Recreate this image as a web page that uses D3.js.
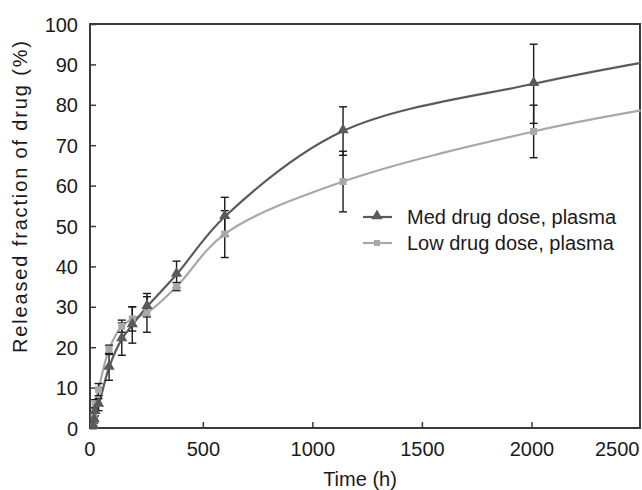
<!DOCTYPE html>
<html>
<head>
<meta charset="utf-8">
<script src="https://cdn.jsdelivr.net/npm/d3@7"></script>
<style>
  body { margin: 0; background: #fff; }
  text { font-family: "Liberation Sans", Arial, sans-serif; fill: #1a1a1a; }
</style>
</head>
<body>
<script>
// data
var times = [0, 4, 8, 24, 72, 130, 178, 245, 380, 600, 1140, 2010];
var medVals = [0.3, 2, 4, 5.8, 15, 22, 25.5, 30, 38, 52.3, 73.5, 85.2];
var medErr = [0.3, 0.8, 1, 1.5, 3.2, 4, 4.5, 2.5, 3.3, 4.8, 6, 9.8];
var lowVals = [0.3, 3, 6, 9.5, 19.5, 25.2, 27, 28.5, 35, 48, 61, 73.4];
var lowErr = [0.3, 0.8, 1, 1.5, 1, 1.5, 3, 4.8, 1, 5.8, 7.5, 6.5];
// curve continues to the edge of the plot (no marker there)
var tailTime = 2500;
var medTail = 90.4;
var lowTail = 78.6;
var xTicks = [0, 500, 1000, 1500, 2000, 2500];
var yTicks = [0, 10, 20, 30, 40, 50, 60, 70, 80, 90, 100];
var seriesNames = ["Med drug dose, plasma", "Low drug dose, plasma"];

var W = 642, H = 490;
var svg = d3.select("body").append("svg")
    .attr("width", W)
    .attr("height", H);

var x = d3.scaleLinear().domain([-15, 2500]).range([90, 641]);
var y = d3.scaleLinear().domain([0, 100]).range([428, 24]);

var axisCol = "#3a3a3a";
var medCol = "#5a5a5a";
var lowCol = "#a8a8a8";
var fs = "20px";

// frame
svg.append("rect")
    .attr("x", x.range()[0])
    .attr("y", y(100))
    .attr("width", x.range()[1] - x.range()[0] - 1)
    .attr("height", y(0) - y(100))
    .attr("fill", "none")
    .attr("stroke", axisCol)
    .attr("stroke-width", 2);

// y axis
var yAxis = d3.axisLeft(y).tickValues(yTicks).tickSize(-6).tickPadding(12);
var gy = svg.append("g").attr("transform", "translate(" + x.range()[0] + ",0)").call(yAxis);
gy.select(".domain").remove();
gy.selectAll(".tick line").attr("stroke", axisCol).attr("stroke-width", 1.5);
gy.selectAll(".tick text").style("font-size", fs).attr("dy", "0.35em");

// x axis
var xAxis = d3.axisBottom(x).tickValues(xTicks).tickSize(-6).tickPadding(14)
    .tickFormat(d3.format("d"));
var gx = svg.append("g").attr("transform", "translate(0," + y(0) + ")").call(xAxis);
gx.select(".domain").remove();
gx.selectAll(".tick line").attr("stroke", axisCol).attr("stroke-width", 1.5);
gx.selectAll(".tick text").style("font-size", fs);
gx.selectAll(".tick text").filter(function (d) { return d == 2500; })
    .attr("text-anchor", "end").attr("x", -2);
gx.selectAll(".tick text").filter(function (d) { return d == 0; }).attr("x", -4);
gx.selectAll(".tick").filter(function (d) { return d == 0 || d == 2500; }).select("line").remove();

// axis titles
svg.append("text")
    .attr("x", 360)
    .attr("y", 486)
    .attr("text-anchor", "middle")
    .style("font-size", fs)
    .text("Time (h)");
svg.append("text")
    .attr("transform", "translate(27," + 197 + ") rotate(-90)")
    .attr("text-anchor", "middle")
    .attr("textLength", 312)
    .attr("lengthAdjust", "spacing")
    .style("font-size", fs)
    .text("Released fraction of drug (%)");

svg.append("clipPath").attr("id", "plot")
    .append("rect")
    .attr("x", x.range()[0])
    .attr("y", y(100))
    .attr("width", x.range()[1] - x.range()[0])
    .attr("height", y(0) - y(100) + 2);

function makeSeries(vals, tail) {
    var pts = times.map(function (t, i) { return [t, vals[i]]; });
    pts.push([tailTime, tail]);
    return pts;
}

var line = d3.line()
    .x(function (d) { return x(d[0]); })
    .y(function (d) { return y(d[1]); })
    .curve(d3.curveCatmullRom.alpha(0.5));

var plot = svg.append("g").attr("clip-path", "url(#plot)");

plot.append("path")
    .datum(makeSeries(lowVals, lowTail))
    .attr("d", line)
    .attr("fill", "none")
    .attr("stroke", lowCol)
    .attr("stroke-width", 2.2);

plot.append("path")
    .datum(makeSeries(medVals, medTail))
    .attr("d", line)
    .attr("fill", "none")
    .attr("stroke", medCol)
    .attr("stroke-width", 2.2);

// error bars
function errBars(vals, errs) {
    times.forEach(function (t, i) {
        var cx = x(t);
        var top = y(vals[i] + errs[i]), bot = y(Math.max(0, vals[i] - errs[i]));
        plot.append("line")
            .attr("x1", cx).attr("x2", cx)
            .attr("y1", top).attr("y2", bot)
            .attr("stroke", "#1a1a1a").attr("stroke-width", 1.4);
        [top, bot].forEach(function (yy) {
            plot.append("line")
                .attr("x1", cx - 4).attr("x2", cx + 4)
                .attr("y1", yy).attr("y2", yy)
                .attr("stroke", "#1a1a1a").attr("stroke-width", 1.4);
        });
    });
}
errBars(lowVals, lowErr);
errBars(medVals, medErr);

var tri = d3.symbol().type(d3.symbolTriangle).size(55);
function drawMarkers(vals, kind) {
    times.forEach(function (t, i) {
        if (kind == "tri") {
            plot.append("path")
                .attr("d", tri())
                .attr("transform", "translate(" + x(t) + "," + (y(vals[i]) - 1) + ")")
                .attr("fill", medCol);
        } else {
            plot.append("rect")
                .attr("x", x(t) - 3.5).attr("y", y(vals[i]) - 3.5)
                .attr("width", 7).attr("height", 7)
                .attr("fill", lowCol);
        }
    });
}
drawMarkers(lowVals, "sq");
drawMarkers(medVals, "tri");

// legend
var lg = svg.append("g");
[0, 1].forEach(function (k) {
    var ly = 217 + k * 26;
    lg.append("line")
        .attr("x1", 363).attr("x2", 392)
        .attr("y1", ly).attr("y2", ly)
        .attr("stroke", k == 0 ? medCol : lowCol)
        .attr("stroke-width", 2.2);
    if (k == 0) {
        lg.append("path").attr("d", tri())
            .attr("transform", "translate(377," + (ly - 1) + ")")
            .attr("fill", medCol);
    } else {
        lg.append("rect").attr("x", 374).attr("y", ly - 3)
            .attr("width", 6).attr("height", 6).attr("fill", lowCol);
    }
    lg.append("text")
        .attr("x", 407)
        .attr("y", ly)
        .attr("dy", "0.35em")
        .style("font-size", fs)
        .text(seriesNames[k]);
});
</script>
</body>
</html>
